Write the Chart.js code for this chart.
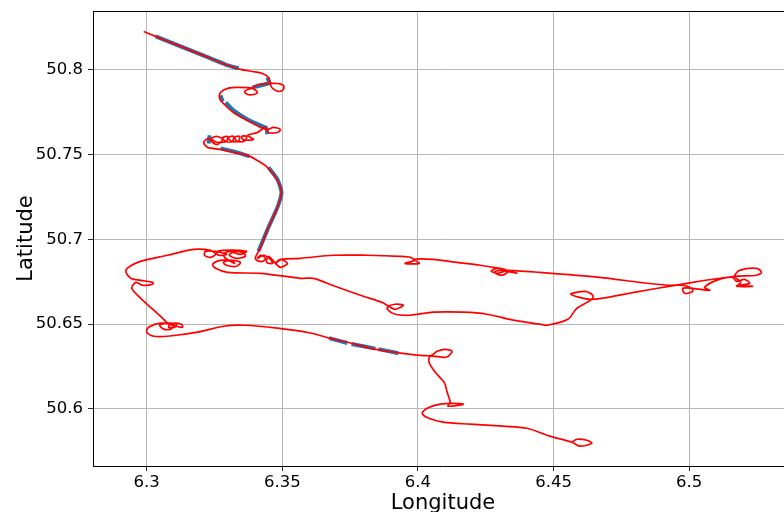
<!DOCTYPE html>
<html>
<head>
<meta charset="utf-8">
<title>Track</title>
<style>
  html, body { margin: 0; padding: 0; background: #fff; overflow: hidden; width: 784px; height: 512px; }
  canvas { display: block; }
</style>
<script src="https://cdn.jsdelivr.net/npm/chart.js@4/dist/chart.umd.min.js"></script>
</head>
<body>
<!-- the reference figure is cut off on the right and at the bottom, so the canvas runs past the window -->
<canvas id="myChart" width="793" height="516"></canvas>
<script>
// red route
const routeLon = [
  6.2989, 6.3033, 6.3125, 6.3217, 6.3291, 6.3346, 6.3390, 6.3427, 6.3449, 6.3456, 6.3464, 6.3486, 6.3504, 6.3504, 6.3482,
  6.3445, 6.3412, 6.3383, 6.3361, 6.3372, 6.3394, 6.3408, 6.3390, 6.3335, 6.3298, 6.3272, 6.3269, 6.3283, 6.3320, 6.3372,
  6.3420, 6.3445, 6.3467, 6.3493, 6.3482, 6.3449, 6.3438, 6.3408, 6.3372,
  6.3394, 6.3357, 6.3350, 6.3368, 6.3364, 6.3335, 6.3324, 6.3342, 6.3339, 6.3313, 6.3302, 6.3320, 6.3316, 6.3291, 6.3280, 6.3298, 6.3294, 6.3269,
  6.3250, 6.3239, 6.3258, 6.3280, 6.3261, 6.3243, 6.3228, 6.3210, 6.3225,
  6.3272, 6.3320, 6.3372, 6.3408, 6.3445, 6.3482, 6.3497, 6.3482, 6.3449, 6.3420, 6.3401, 6.3405, 6.3427, 6.3438, 6.3420,
  6.3409, 6.3431, 6.3456, 6.3464, 6.3442, 6.3449, 6.3475, 6.3493, 6.3519, 6.3493, 6.3475, 6.3497, 6.3567, 6.3688, 6.3813,
  6.3935, 6.3972, 6.3986, 6.3953, 6.4005, 6.3986, 6.4056, 6.4144, 6.4229, 6.4277, 6.4303, 6.4325, 6.4295, 6.4270, 6.4292,
  6.4332, 6.4310, 6.4281, 6.4303, 6.4365, 6.4328, 6.4450, 6.4671, 6.4818, 6.4921, 6.4976, 6.5009, 6.5013, 6.4984, 6.4976,
  6.5013, 6.5076, 6.5057, 6.5101, 6.5160, 6.5175, 6.5204, 6.5223, 6.5186, 6.5234, 6.5175, 6.5190, 6.5168, 6.5186, 6.5249,
  6.5267, 6.5249, 6.5168, 6.5013, 6.4818, 6.4641, 6.4564, 6.4616, 6.4645, 6.4641, 6.4586, 6.4553, 6.4476, 6.4450, 6.4351,
  6.4255, 6.4167, 6.4056, 6.3972, 6.3916, 6.3887, 6.3891, 6.3916, 6.3946, 6.3916, 6.3887, 6.3868, 6.3788, 6.3684, 6.3615,
  6.3567, 6.3420, 6.3298, 6.3254, 6.3243, 6.3272, 6.3316, 6.3346, 6.3331, 6.3294, 6.3283, 6.3309, 6.3324, 6.3287, 6.3287,
  6.3316, 6.3357, 6.3364, 6.3331, 6.3305, 6.3316, 6.3346, 6.3368, 6.3280, 6.3258, 6.3265, 6.3294, 6.3254, 6.3217, 6.3213,
  6.3236, 6.3254, 6.3236, 6.3173, 6.3077, 6.2967, 6.2923, 6.2941, 6.2978, 6.3022, 6.3022, 6.2985, 6.2960, 6.2945, 6.2978,
  6.3026, 6.3059, 6.3077, 6.3107, 6.3132, 6.3129, 6.3088, 6.3081, 6.3103, 6.3110, 6.3070, 6.3048, 6.3063, 6.3088, 6.3099,
  6.3052, 6.3007, 6.3000, 6.3026, 6.3077, 6.3188, 6.3283, 6.3357, 6.3482, 6.3604, 6.3673, 6.3751, 6.3824, 6.3905, 6.4045,
  6.4071, 6.4100, 6.4126, 6.4104, 6.4045, 6.4041, 6.4064, 6.4097, 6.4108, 6.4119, 6.4111, 6.4167, 6.4130, 6.4082, 6.4034,
  6.4016, 6.4038, 6.4093, 6.4192, 6.4314, 6.4402, 6.4487, 6.4568, 6.4597, 6.4641, 6.4623, 6.4586, 6.4568
];
const routeLat = [
  50.8227, 50.8198, 50.8139, 50.8080, 50.8032, 50.8003, 50.7991, 50.7979, 50.7956, 50.7914, 50.7891, 50.7873, 50.7885, 50.7909, 50.7920,
  50.7920, 50.7914, 50.7891, 50.7873, 50.7855, 50.7855, 50.7867, 50.7891, 50.7897, 50.7891, 50.7867, 50.7832, 50.7802, 50.7749, 50.7702,
  50.7661, 50.7649, 50.7661, 50.7649, 50.7631, 50.7631, 50.7661, 50.7631, 50.7614,
  50.7590, 50.7587, 50.7608, 50.7608, 50.7584, 50.7578, 50.7602, 50.7608, 50.7581, 50.7578, 50.7602, 50.7608, 50.7578, 50.7578, 50.7599, 50.7608, 50.7578, 50.7572,
  50.7578, 50.7596, 50.7608, 50.7590, 50.7560, 50.7572, 50.7596, 50.7572, 50.7543,
  50.7531, 50.7513, 50.7496, 50.7466, 50.7425, 50.7348, 50.7277, 50.7189, 50.7071, 50.6953, 50.6894, 50.6876, 50.6870, 50.6888, 50.6906,
  50.6888, 50.6906, 50.6882, 50.6858, 50.6864, 50.6900, 50.6858, 50.6835, 50.6858, 50.6882, 50.6858, 50.6882, 50.6888, 50.6906, 50.6906,
  50.6900, 50.6894, 50.6876, 50.6858, 50.6858, 50.6882, 50.6882, 50.6864, 50.6847, 50.6835, 50.6829, 50.6817, 50.6800, 50.6812, 50.6829,
  50.6812, 50.6788, 50.6806, 50.6817, 50.6800, 50.6817, 50.6805, 50.6776, 50.6746, 50.6729, 50.6729, 50.6711, 50.6693, 50.6681, 50.6711,
  50.6711, 50.6699, 50.6717, 50.6758, 50.6776, 50.6752, 50.6764, 50.6740, 50.6729, 50.6723, 50.6723, 50.6746, 50.6782, 50.6817, 50.6829,
  50.6805, 50.6788, 50.6782, 50.6746, 50.6693, 50.6646, 50.6676, 50.6693, 50.6670, 50.6646, 50.6593, 50.6528, 50.6493, 50.6499, 50.6523,
  50.6558, 50.6570, 50.6570, 50.6552, 50.6558, 50.6587, 50.6605, 50.6617, 50.6611, 50.6587, 50.6611, 50.6628, 50.6670, 50.6729, 50.6770,
  50.6770, 50.6799, 50.6805, 50.6829, 50.6853, 50.6876, 50.6876, 50.6864, 50.6841, 50.6847, 50.6864, 50.6876, 50.6858, 50.6894, 50.6917,
  50.6932, 50.6920, 50.6900, 50.6888, 50.6906, 50.6923, 50.6911, 50.6929, 50.6935, 50.6923, 50.6906, 50.6912, 50.6929, 50.6929, 50.6906,
  50.6894, 50.6912, 50.6935, 50.6941, 50.6906, 50.6864, 50.6817, 50.6770, 50.6758, 50.6746, 50.6735, 50.6729, 50.6746, 50.6711, 50.6652,
  50.6582, 50.6534, 50.6505, 50.6487, 50.6481, 50.6499, 50.6502, 50.6481, 50.6481, 50.6499, 50.6505, 50.6493, 50.6470, 50.6470, 50.6493,
  50.6505, 50.6481, 50.6452, 50.6428, 50.6428, 50.6452, 50.6487, 50.6493, 50.6476, 50.6447, 50.6417, 50.6388, 50.6358, 50.6335, 50.6313,
  50.6339, 50.6351, 50.6339, 50.6304, 50.6310, 50.6274, 50.6215, 50.6156, 50.6097, 50.6038, 50.6015, 50.6027, 50.6032, 50.6027, 50.6003,
  50.5974, 50.5945, 50.5921, 50.5909, 50.5897, 50.5885, 50.5838, 50.5802, 50.5779, 50.5796, 50.5814, 50.5820, 50.5802
];

// blue stretches under the route, null = gap
const trackLon = [
  6.3033, 6.3125, 6.3217, 6.3291, 6.3339, null,
  6.3445, 6.3456, null,
  6.3390, 6.3449, null,
  6.3272, 6.3280, null,
  6.3291, 6.3320, 6.3372, 6.3445, null,
  6.3442, 6.3445, null,
  6.3232, 6.3228, null,
  6.3272, 6.3320, 6.3379, null,
  6.3449, 6.3482, 6.3497, 6.3482, 6.3449, 6.3412, null,
  6.3673, 6.3740, null,
  6.3755, 6.3843, null,
  6.3854, 6.3928
];
const trackLat = [
  50.8198, 50.8139, 50.8080, 50.8032, 50.8009, null,
  50.7956, 50.7914, null,
  50.7897, 50.7920, null,
  50.7850, 50.7814, null,
  50.7808, 50.7761, 50.7708, 50.7655, null,
  50.7655, 50.7620, null,
  50.7614, 50.7566, null,
  50.7537, 50.7519, 50.7490, null,
  50.7425, 50.7354, 50.7277, 50.7189, 50.7071, 50.6930, null,
  50.6417, 50.6388, null,
  50.6382, 50.6355, null,
  50.6352, 50.6328
];

const xTicks = [6.3, 6.35, 6.4, 6.45, 6.5];
const xTickLabels = ["6.3", "6.35", "6.4", "6.45", "6.5"];
const yTicks = [50.6, 50.65, 50.7, 50.75, 50.8];
const yTickLabels = ["50.6", "50.65", "50.7", "50.75", "50.8"];

const toPoints = (xs, ys) => xs.map((x, i) => ({ x: x, y: ys[i] }));

// matplotlib style top line, chart.js has none
const topLine = {
  id: "topLine",
  afterDraw(chart) {
    const a = chart.chartArea;
    const ctx = chart.ctx;
    ctx.save();
    ctx.strokeStyle = "#000";
    ctx.lineWidth = 1;
    ctx.beginPath();
    ctx.moveTo(a.left, a.top + 0.5);
    ctx.lineTo(a.right, a.top + 0.5);
    ctx.stroke();
    ctx.restore();
  },
};

const ctx = document.getElementById("myChart").getContext("2d");
new Chart(ctx, {
  type: "scatter",
  data: {
    datasets: [
      {
        data: toPoints(routeLon, routeLat),
        showLine: true,
        borderColor: "#ff0000",
        borderWidth: 1.7,
        pointRadius: 0,
        tension: 0.3,
      },
      {
        data: toPoints(trackLon, trackLat),
        showLine: true,
        spanGaps: false,
        borderColor: "#1f77b4",
        borderWidth: 4,
        pointRadius: 0,
        tension: 0.2,
      },
    ],
  },
  options: {
    responsive: false,
    animation: false,
    layout: { padding: { top: 11, left: 0, right: 0, bottom: 0 } },
    plugins: { legend: { display: false }, tooltip: { enabled: false } },
    scales: {
      x: {
        type: "linear",
        min: 6.2802,
        max: 6.5383,
        afterFit(scale) {
          scale.height = 50;
          scale.paddingLeft = 0;
          scale.paddingRight = 0;
        },
        afterBuildTicks(scale) { scale.ticks = xTicks.map((v) => ({ value: v })); },
        grid: { color: "#b8b8b8", lineWidth: 1, tickColor: "#333", tickLength: 5 },
        border: { color: "#000", width: 1 },
        ticks: {
          color: "#000",
          maxRotation: 0,
          autoSkip: false,
          padding: 2,
          font: { family: "DejaVu Sans", size: 16.5 },
          callback: (v) => xTickLabels[xTicks.indexOf(v)],
        },
        title: {
          display: true,
          text: "Longitude",
          color: "#000",
          font: { family: "DejaVu Sans", size: 21 },
          padding: { top: 0, bottom: 0 },
        },
      },
      y: {
        type: "linear",
        min: 50.5662,
        max: 50.8348,
        afterFit(scale) {
          scale.width = 93;
          scale.paddingTop = 0;
          scale.paddingBottom = 0;
        },
        afterBuildTicks(scale) { scale.ticks = yTicks.map((v) => ({ value: v })); },
        grid: { color: "#b8b8b8", lineWidth: 1, tickColor: "#333", tickLength: 5 },
        border: { color: "#000", width: 1 },
        ticks: {
          color: "#000",
          autoSkip: false,
          padding: 5,
          font: { family: "DejaVu Sans", size: 16.5 },
          callback: (v) => yTickLabels[yTicks.indexOf(v)],
        },
        title: {
          display: true,
          text: "Latitude",
          color: "#000",
          font: { family: "DejaVu Sans", size: 21 },
          padding: { top: 14, bottom: 0 },
        },
      },
    },
  },
  plugins: [topLine],
});
</script>
</body>
</html>
